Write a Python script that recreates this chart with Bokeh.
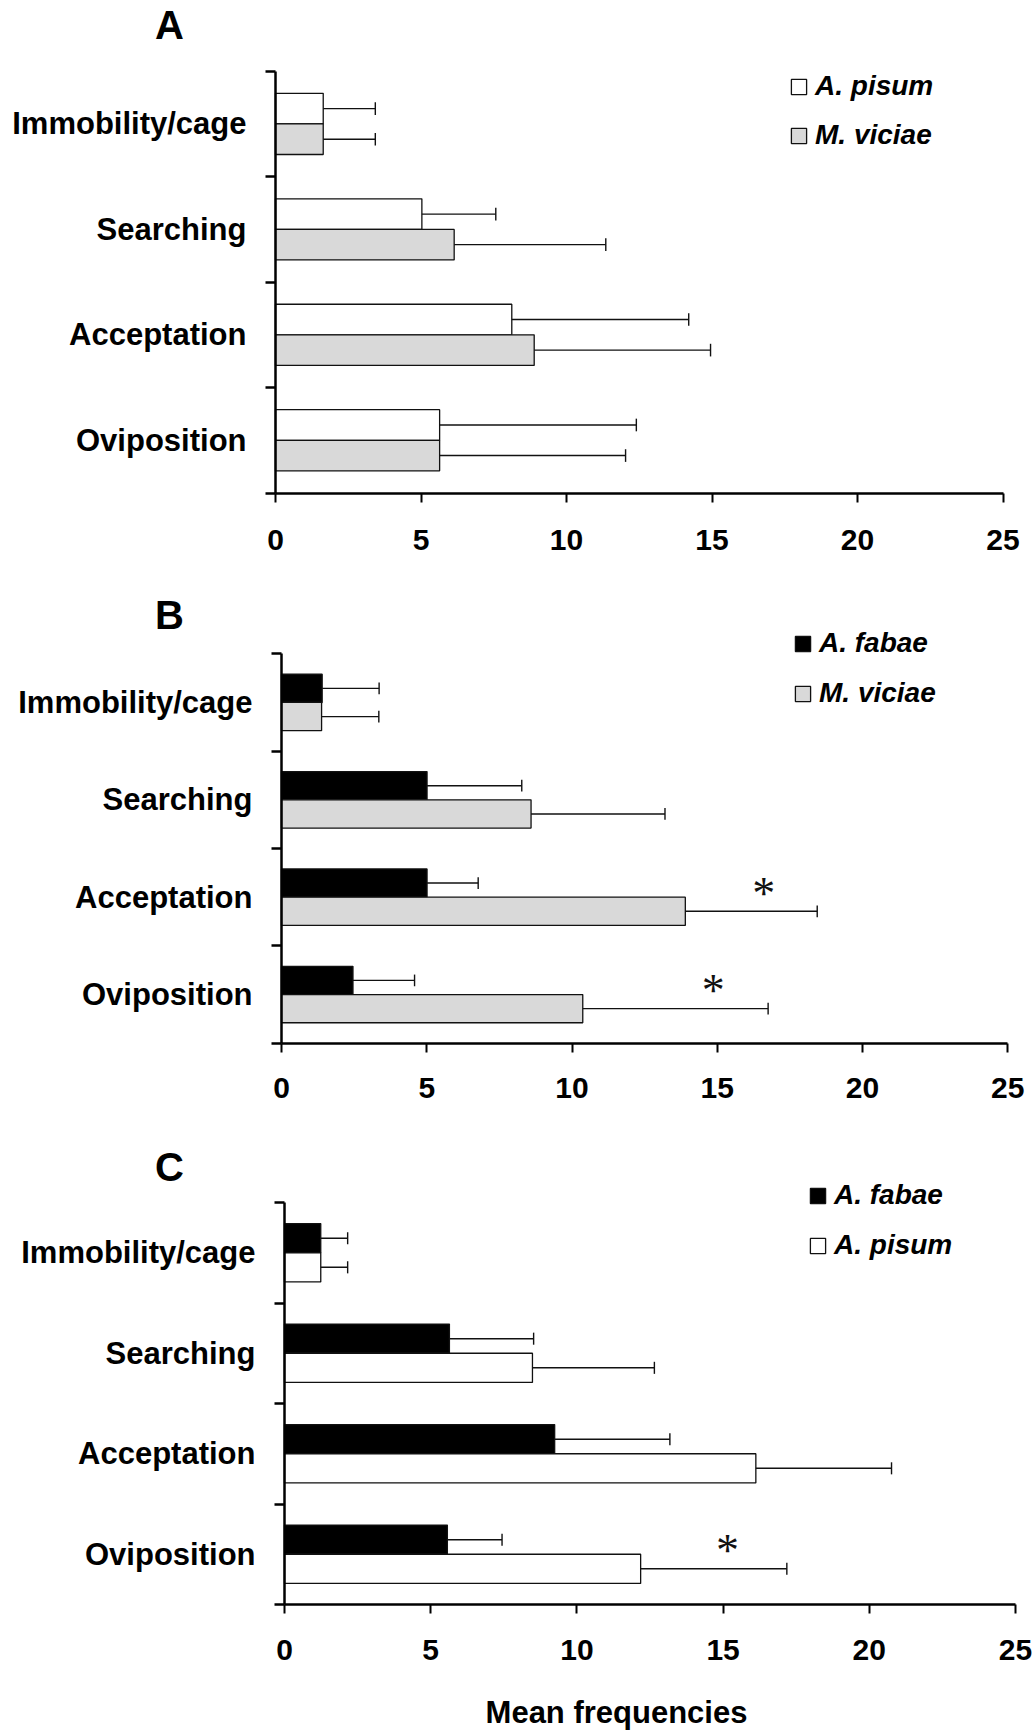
from bokeh.plotting import figure
from bokeh.models import Range1d, FixedTicker, Label, Legend, LegendItem, ColumnDataSource
from bokeh.layouts import column
from bokeh.embed import file_html
from bokeh.resources import INLINE
from bokeh.core.properties import value

behaviours = ["Immobility/cage", "Searching", "Acceptation", "Oviposition"]
x_ticks = [0, 5, 10, 15, 20, 25]

# Panel A: A. pisum vs M. viciae
a_names = ["A. pisum", "M. viciae"]
a_pisum_mean = [1.64, 5.03, 8.12, 5.64]
a_pisum_sd = [1.79, 2.54, 6.08, 6.76]
a_viciae_mean = [1.64, 6.14, 8.89, 5.64]
a_viciae_sd = [1.79, 5.21, 6.06, 6.39]

# Panel B: A. fabae vs M. viciae
b_names = ["A. fabae", "M. viciae"]
b_fabae_mean = [1.40, 5.01, 5.01, 2.46]
b_fabae_sd = [1.96, 3.26, 1.76, 2.12]
b_viciae_mean = [1.38, 8.59, 13.90, 10.37]
b_viciae_sd = [1.97, 4.61, 4.54, 6.38]
b_star_behaviour = ["Acceptation", "Oviposition"]
b_star_x = [16.6, 14.86]

# Panel C: A. fabae vs A. pisum
c_names = ["A. fabae", "A. pisum"]
c_fabae_mean = [1.24, 5.64, 9.24, 5.57]
c_fabae_sd = [0.92, 2.88, 3.94, 1.87]
c_pisum_mean = [1.24, 8.48, 16.12, 12.18]
c_pisum_sd = [0.92, 4.17, 4.64, 5.00]
c_star_behaviour = ["Oviposition"]
c_star_x = [15.15]

WHITE, GREY, BLACK = "#ffffff", "#d9d9d9", "#000000"
FONT = "Liberation Sans"
BAR_H = 0.29
W = 1036


def make_panel(letter, names, series, colors, stars, fig_top, height,
               x0_px, x25_px, t0_px, xb_px, letter_pos, legend_pos, legend_spacing,
               tick_standoff, x_title=None):
    # Pixel geometry of the plotting area inside this figure
    ppx = (x25_px - x0_px) / 25.0
    ppy = (xb_px - t0_px) / 4.0
    x_range = Range1d(-x0_px / ppx, (W - x0_px) / ppx)
    y_range = Range1d(4 + (fig_top + height - xb_px) / ppy, -(t0_px - fig_top) / ppy)

    p = figure(width=W, height=height, x_range=x_range, y_range=y_range,
               output_backend="svg", toolbar_location=None,
               min_border_left=0, min_border_right=0, min_border_top=0, min_border_bottom=0)
    p.outline_line_color = None
    p.grid.visible = False
    p.background_fill_color = "white"
    p.border_fill_color = "white"

    items = []
    for k, ((means, sds), color, name) in enumerate(zip(series, colors, names)):
        shift = (k - 0.5) * BAR_H
        ys = [i + 0.5 + shift for i in range(len(behaviours))]
        ends = [m + s for m, s in zip(means, sds)]
        src = ColumnDataSource(dict(y=ys, right=means, end=ends,
                                    c0=[y - 0.06 for y in ys], c1=[y + 0.06 for y in ys]))
        r = p.hbar(y="y", right="right", left=0, height=BAR_H, source=src,
                   fill_color=color, line_color="#111111", line_width=1.3)
        p.segment(x0="right", x1="end", y0="y", y1="y", source=src,
                  line_color="#111111", line_width=1.4)
        p.segment(x0="end", x1="end", y0="c0", y1="c1", source=src,
                  line_color="#111111", line_width=1.4)
        items.append(LegendItem(label=name, renderers=[r]))

    if stars:
        beh, sx = stars
        sy = [behaviours.index(b) + 0.5 - 0.12 for b in beh]
        p.text(x=sx, y=sy, text=["*"] * len(sx), text_font=value("Liberation Serif"),
               text_font_size="46px", text_align="center", text_baseline="alphabetic",
               y_offset=8, text_color="#111111")

    # legend: first glyph box left edge and first item centre, page pixels
    box_left, first_centre = legend_pos
    item_h = 32
    leg_h = 2 * item_h + legend_spacing
    leg_bottom = fig_top + height - (first_centre - item_h / 2) - leg_h
    legend = Legend(items=items, location=(box_left - 2, leg_bottom), orientation="vertical",
                    glyph_width=19, glyph_height=19, label_standoff=7, spacing=legend_spacing,
                    padding=0, margin=0, border_line_color=None, background_fill_alpha=0,
                    label_text_font=FONT, label_text_font_style="bold italic",
                    label_text_font_size="28px", label_text_color="black")
    p.add_layout(legend)

    ya = p.yaxis[0]
    ya.fixed_location = 0
    ya.bounds = (0, 4)
    ya.ticker = FixedTicker(ticks=[i + 0.5 for i in range(4)], minor_ticks=[0, 1, 2, 3, 4])
    ya.major_label_overrides = {i + 0.5: b for i, b in enumerate(behaviours)}
    ya.major_tick_line_color = None
    ya.major_tick_out = 0
    ya.major_tick_in = 0
    ya.minor_tick_out = 10
    ya.minor_tick_in = 0
    ya.minor_tick_line_width = 2.3
    ya.minor_tick_line_color = "black"
    ya.axis_line_width = 2.5
    ya.axis_line_color = "black"
    ya.major_label_standoff = 19
    ya.major_label_text_font = FONT
    ya.major_label_text_font_style = "bold"
    ya.major_label_text_font_size = "31px"
    ya.major_label_text_color = "black"

    xa = p.xaxis[0]
    xa.fixed_location = 4
    xa.bounds = (0, 25)
    xa.ticker = FixedTicker(ticks=x_ticks)
    xa.major_tick_out = 9
    xa.major_tick_in = 0
    xa.major_tick_line_width = 2
    xa.major_tick_line_color = "black"
    xa.minor_tick_line_color = None
    xa.axis_line_width = 2.5
    xa.axis_line_color = "black"
    xa.major_label_standoff = tick_standoff
    xa.major_label_text_font = FONT
    xa.major_label_text_font_style = "bold"
    xa.major_label_text_font_size = "30px"
    xa.major_label_text_color = "black"

    p.add_layout(Label(x=letter_pos[0], y=fig_top + height - letter_pos[1],
                       x_units="screen", y_units="screen",
                       text=letter, text_align="center", text_baseline="middle",
                       text_font=FONT, text_font_style="bold", text_font_size="40px",
                       text_color="black"))
    if x_title:
        text, tx, ty = x_title
        p.add_layout(Label(x=tx, y=fig_top + height - ty, x_units="screen", y_units="screen",
                           text=text, text_align="center", text_baseline="middle",
                           text_font=FONT, text_font_style="bold", text_font_size="31px",
                           text_color="black"))
    return p


pa = make_panel("A", a_names,
                [(a_pisum_mean, a_pisum_sd), (a_viciae_mean, a_viciae_sd)],
                [WHITE, GREY], None,
                0, 575, 275, 1002.5, 70.7, 492.5,
                (169, 24), (791, 86), 17, 28)
pb = make_panel("B", b_names,
                [(b_fabae_mean, b_fabae_sd), (b_viciae_mean, b_viciae_sd)],
                [BLACK, GREY], (b_star_behaviour, b_star_x),
                575, 550, 281, 1007.3, 653.3, 1042.7,
                (169, 614.6), (795, 643), 18, 26)
pc = make_panel("C", c_names,
                [(c_fabae_mean, c_fabae_sd), (c_pisum_mean, c_pisum_sd)],
                [BLACK, WHITE], (c_star_behaviour, c_star_x),
                1125, 608, 284, 1015, 1202, 1604,
                (169, 1166.7), (810, 1195), 18, 26,
                x_title=("Mean frequencies", 616, 1712))

layout = column(pa, pb, pc, spacing=0)
open("out.html", "w").write(file_html(layout, INLINE))
